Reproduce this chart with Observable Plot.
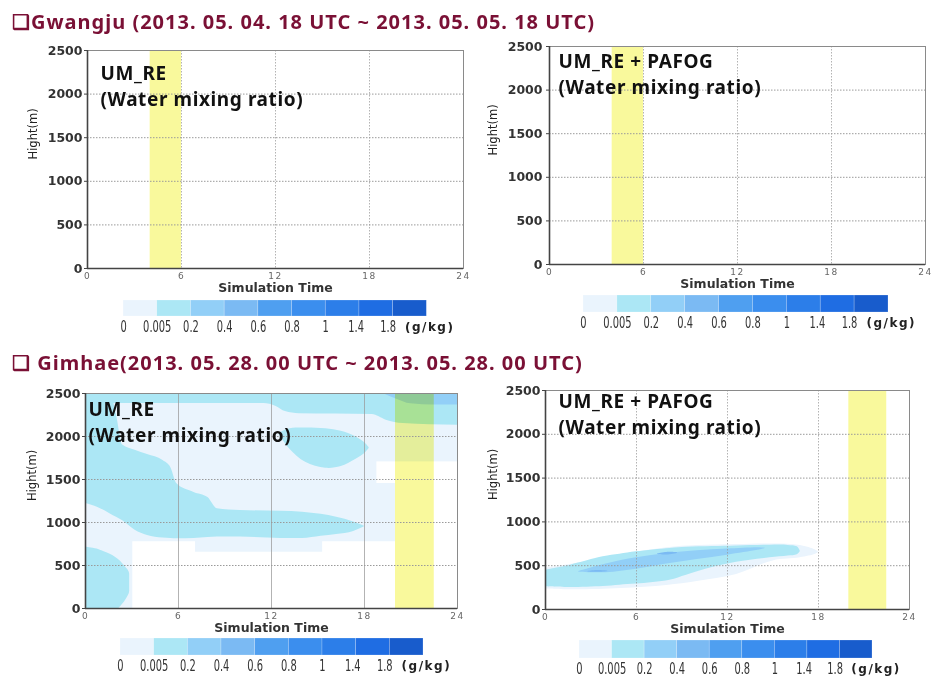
<!DOCTYPE html>
<html><head><meta charset="utf-8">
<script src="https://cdn.jsdelivr.net/npm/d3@7"></script>
<script src="https://cdn.jsdelivr.net/npm/@observablehq/plot@0.6"></script>
<style>
body{margin:0;background:#fff;}
#root{position:relative;width:938px;height:690px;overflow:hidden;background:#fff;}
.hdr{position:absolute;left:12px;font-family:"Noto Sans","Noto Sans CJK KR",sans-serif;font-weight:bold;font-size:20px;letter-spacing:1px;color:#7a1035;white-space:nowrap;line-height:20px;}
.panel g[aria-label="x-axis tick label"] text{letter-spacing:1.5px;}
.panel g[font-family="Noto Sans"]{letter-spacing:0.6px;}
.lg g[font-size="12"]{letter-spacing:1.5px;}
</style></head><body><div id="root"></div>
<script>
// ---------- data ----------
const hours = [0, 6, 12, 18, 24];
const heights = [0, 500, 1000, 1500, 2000, 2500];
const classLabels = ["0", "0.005", "0.2", "0.4", "0.6", "0.8", "1", "1.4", "1.8"];
const classColors = ["#eaf4fd", "#ace7f5", "#92cff7", "#7bbaf3", "#4f9ff0", "#3b8eee", "#2c7ee9", "#1f6de3", "#185ccc"];
const labelAt = [0, 1, 2, 3, 4, 5, 6, 6.9, 7.85];
const unitLabel = "(g/kg)";
const headers = ["\u2751Gwangju (2013. 05. 04. 18 UTC ~ 2013. 05. 05. 18 UTC)", "\u2751 Gimhae(2013. 05. 28. 00 UTC ~ 2013. 05. 28. 00 UTC)"];
const runNames = ["UM_RE", "UM_RE + PAFOG"];
const varName = "(Water mixing ratio)";
const fogGwangju = [{start: 4, end: 6}];
const fogGimhae = [{start: 20, end: 22.5}];

// Gimhae UM_RE (values in hours / metres)
const reStrip = [{h:0,lo:2385},{h:11.5,lo:2385},{h:12.3,lo:2350},{h:12.9,lo:2290},{h:13.8,lo:2265},{h:18.5,lo:2255},{h:19.4,lo:2190},{h:20.5,lo:2150},{h:24,lo:2130}];
const reMain = [{h:0,lo:1220,hi:2500},{h:0.8,lo:1175,hi:2500},{h:1.6,lo:1100,hi:2500},{h:2.0,lo:1060,hi:2250},{h:2.4,lo:1020,hi:1900},{h:3.2,lo:910,hi:1840},{h:4.0,lo:850,hi:1790},{h:5.0,lo:820,hi:1720},{h:5.5,lo:815,hi:1640},{h:5.9,lo:812,hi:1450},{h:7.0,lo:815,hi:1350},{h:7.9,lo:825,hi:1290},{h:8.5,lo:830,hi:1160},{h:10.0,lo:830,hi:1140},{h:12.6,lo:815,hi:1130},{h:14.0,lo:815,hi:1120},{h:15.2,lo:840,hi:1095},{h:16.2,lo:860,hi:1060},{h:17.3,lo:895,hi:1005},{h:18.0,lo:950,hi:955}];
const reBlobHigh = [{h:12.5,lo:2020,hi:2040},{h:13.2,lo:1850,hi:2090},{h:14.2,lo:1700,hi:2100},{h:15.5,lo:1630,hi:2090},{h:16.5,lo:1650,hi:2060},{h:17.4,lo:1730,hi:2000},{h:18.0,lo:1800,hi:1930},{h:18.3,lo:1860,hi:1870}];
const reBlobLow = [{m:0,h:2.15},{m:100,h:2.6},{m:200,h:2.85},{m:400,h:2.85},{m:500,h:2.5},{m:600,h:1.9},{m:660,h:1.2},{m:700,h:0.5},{m:715,h:0}];
const reCorner = [{h:19.2,lo:2500},{h:20,lo:2440},{h:21,lo:2380},{h:22.5,lo:2365},{h:24,lo:2365}];
const reClearLow = [{h:3.05,top:775},{h:7.1,top:655},{h:15.3,top:775},{h:20,top:1453},{h:24,top:1453}];
const reClearGap = [{h1:18.8,h2:24,m1:1453,m2:1705}];

// Gimhae UM_RE + PAFOG
const pfClass0 = [{h:0,lo:235,hi:470},{h:2,lo:225,hi:525},{h:5,lo:240,hi:625},{h:8,lo:275,hi:705},{h:10,lo:320,hi:730},{h:12.6,lo:400,hi:742},{h:15,lo:555,hi:748},{h:16.8,lo:590,hi:732},{h:17.8,lo:630,hi:680},{h:18,lo:650,hi:655}];
const pfClass1 = [{h:0,lo:259,hi:449},{h:1.65,lo:251,hi:506},{h:3.8,lo:262,hi:601},{h:4.9,lo:278,hi:630},{h:6,lo:290,hi:658},{h:8.2,lo:335,hi:696},{h:9.3,lo:392,hi:710},{h:11,lo:480,hi:720},{h:12.6,lo:540,hi:726},{h:14.8,lo:590,hi:734},{h:16,lo:610,hi:732},{h:16.6,lo:625,hi:715},{h:16.8,lo:658,hi:665}];
const pfClass2 = [{h:2.2,lo:425,hi:435},{h:4,lo:420,hi:520},{h:6,lo:460,hi:590},{h:8,lo:520,hi:640},{h:10,lo:570,hi:670},{h:12,lo:620,hi:690},{h:14,lo:675,hi:705},{h:14.5,lo:695,hi:700}];
const pfClass3a = [{h:2.8,lo:428,hi:434},{h:3.4,lo:425,hi:445},{h:4.1,lo:432,hi:440}];
const pfClass3b = [{h:7.4,lo:628,hi:636},{h:8.0,lo:622,hi:652},{h:8.7,lo:640,hi:648}];

// ---------- helpers ----------
const root = document.getElementById("root");
function place(el, left, top, cls) {
  el.style.position = "absolute"; el.style.left = left + "px"; el.style.top = top + "px";
  if (cls) el.classList.add(cls);
  root.appendChild(el);
}
headers.forEach((t, i) => {
  const d = document.createElement("div");
  d.className = "hdr"; d.textContent = t;
  d.style.top = (i === 0 ? 12 : 353) + "px";
  root.appendChild(d);
});

function panel(cfg) {
  const {left, top, width, height, ml, mr, mt, mb, fog, layers, run, labelDx, labelDy, vgridDash, ylabDx, yTickPad} = cfg;
  const grid = {stroke: "#9a9a9a", strokeWidth: 1};
  const marks = [
    ...layers,
    Plot.rect(fog, {x1: "start", x2: "end", fill: "#f9f99c", mixBlendMode: "multiply"}),
    Plot.ruleX(hours.slice(1, -1), {...grid, strokeDasharray: vgridDash, strokeOpacity: 0.75}),
    Plot.ruleY(heights.slice(1, -1), {...grid, strokeDasharray: "1.5,1.5"}),
    Plot.frame({stroke: "#8a8a8a"}),
    Plot.ruleX([hours[0]], {stroke: "#444", strokeWidth: 1.6}),
    Plot.ruleY([heights[0]], {stroke: "#444", strokeWidth: 1.6}),
    Plot.axisY(heights, {tickSize: 3, tickPadding: yTickPad, tickFormat: d => String(d), fontSize: 12.5, fontWeight: "bold", fill: "#333", stroke: "#444", label: null, fontFamily: "DejaVu Sans"}),
    Plot.axisX(hours, {tickSize: 0, tickPadding: 4, tickFormat: d => String(d), fontSize: 9, fill: "#666", label: null, fontFamily: "DejaVu Sans"}),
    Plot.text(["Simulation Time"], {text: d => d, frameAnchor: "bottom", dy: 19, lineAnchor: "middle", fontSize: 12.5, fontWeight: "bold", fill: "#333", fontFamily: "DejaVu Sans"}),
    Plot.text(["Hight(m)"], {text: d => d, frameAnchor: "left", dx: ylabDx, rotate: -90, fontSize: 11.5, fill: "#222", fontFamily: "DejaVu Sans"}),
    Plot.text([run + "\n" + varName], {text: d => d, frameAnchor: "top-left", dx: labelDx, dy: labelDy, textAnchor: "start", lineAnchor: "top", lineHeight: 1.36, fontSize: 19, fontWeight: "bold", fill: "#111", fontFamily: "Noto Sans"})
  ];
  const p = Plot.plot({
    width, height, marginLeft: ml, marginRight: mr, marginTop: mt, marginBottom: mb,
    style: {background: "transparent", overflow: "visible"},
    x: {domain: [hours[0], hours[hours.length - 1]], axis: null},
    y: {domain: [heights[0], heights[heights.length - 1]], axis: null},
    marks
  });
  place(p, left, top, "panel");
}

function legend(x0, x1, y0, y1) {
  const ml = 30, mr = 80, mt = 4, mb = 26;
  const W = (x1 - x0) + ml + mr, H = (y1 - y0) + mt + mb;
  const sw = classColors.map((c, i) => ({i, c}));
  const lb = classLabels.map((t, i) => ({t, at: labelAt[i]}));
  const p = Plot.plot({
    width: W, height: H, marginLeft: ml, marginRight: mr, marginTop: mt, marginBottom: mb,
    style: {background: "transparent", overflow: "visible"},
    x: {domain: [0, classColors.length], axis: null},
    y: {domain: [0, 1], axis: null},
    color: {type: "identity"},
    marks: [
      Plot.rect(sw, {x1: d => d.i, x2: d => d.i + 1, y1: 0, y2: 1, fill: d => d.c, stroke: "#ffffff", strokeOpacity: 0.35, strokeWidth: 0.6}),
      Plot.text(lb, {x: "at", y: 0, text: "t", dy: 11, lineAnchor: "middle", fontSize: 15, fill: "#333", fontFamily: "DejaVu Sans"}),
      Plot.text([unitLabel], {x: 8.35, y: 0, text: d => d, dy: 11, lineAnchor: "middle", textAnchor: "start", fontSize: 12, fontWeight: "bold", fill: "#222", fontFamily: "DejaVu Sans"})
    ]
  });
  // condense the legend value labels horizontally
  const groups = p.querySelectorAll('g[aria-label="text"]');
  if (groups.length) {
    groups[0].querySelectorAll("text").forEach(t => {
      const tr = t.getAttribute("transform") || "";
      t.setAttribute("transform", tr + " scale(0.66,1)");
    });
  }
  place(p, x0 - ml, y0 - mt, "lg");
}

// ---------- Gwangju ----------
panel({left: 0, top: 40, width: 475, height: 270, ml: 87, mr: 12, mt: 10, mb: 42, fog: fogGwangju, layers: [], run: runNames[0], labelDx: 13, labelDy: 11, vgridDash: "1.5,1.5", ylabDx: -54, yTickPad: 2});
panel({left: 470, top: 36, width: 468, height: 270, ml: 79, mr: 13, mt: 10, mb: 42, fog: fogGwangju, layers: [], run: runNames[1], labelDx: 9, labelDy: 3, vgridDash: "1.5,1.5", ylabDx: -56, yTickPad: 4});

// ---------- Gimhae ----------
const mono = "monotone-x";
const reLayers = [
  Plot.frame({fill: classColors[0], stroke: null}),
  Plot.areaY(reClearLow, {x: "h", y1: heights[0], y2: "top", fill: "#ffffff", curve: "step-after"}),
  Plot.rect(reClearGap, {x1: "h1", x2: "h2", y1: "m1", y2: "m2", fill: "#ffffff"}),
  Plot.areaY(reStrip, {x: "h", y1: "lo", y2: heights[heights.length - 1], fill: classColors[1], curve: mono}),
  Plot.areaY(reMain, {x: "h", y1: "lo", y2: "hi", fill: classColors[1], curve: mono}),
  Plot.areaY(reBlobHigh, {x: "h", y1: "lo", y2: "hi", fill: classColors[1], curve: "catmull-rom"}),
  Plot.areaX(reBlobLow, {y: "m", x1: hours[0], x2: "h", fill: classColors[1], curve: "monotone-y"}),
  Plot.areaY(reCorner, {x: "h", y1: "lo", y2: heights[heights.length - 1], fill: classColors[2], curve: mono})
];
const pfLayers = [
  [pfClass0, 0], [pfClass1, 1], [pfClass2, 2], [pfClass3a, 3], [pfClass3b, 3]
].map(([d, c]) => Plot.areaY(d, {x: "h", y1: "lo", y2: "hi", fill: classColors[c], curve: "catmull-rom"}));

panel({left: 0, top: 383, width: 470, height: 267, ml: 85, mr: 13, mt: 10, mb: 42, fog: fogGimhae, layers: reLayers, run: runNames[0], labelDx: 3, labelDy: 4, vgridDash: null, ylabDx: -53, yTickPad: 2});
panel({left: 470, top: 380, width: 468, height: 270, ml: 75, mr: 29, mt: 10, mb: 41, fog: fogGimhae, layers: pfLayers, run: runNames[1], labelDx: 13, labelDy: -1, vgridDash: "1.5,1.5", ylabDx: -52, yTickPad: 2});

// ---------- legends ----------
legend(123.3, 426.7, 300, 316);
legend(583, 888, 295, 312);
legend(120, 423, 638, 655);
legend(579, 872, 640, 658);
</script></body></html>
